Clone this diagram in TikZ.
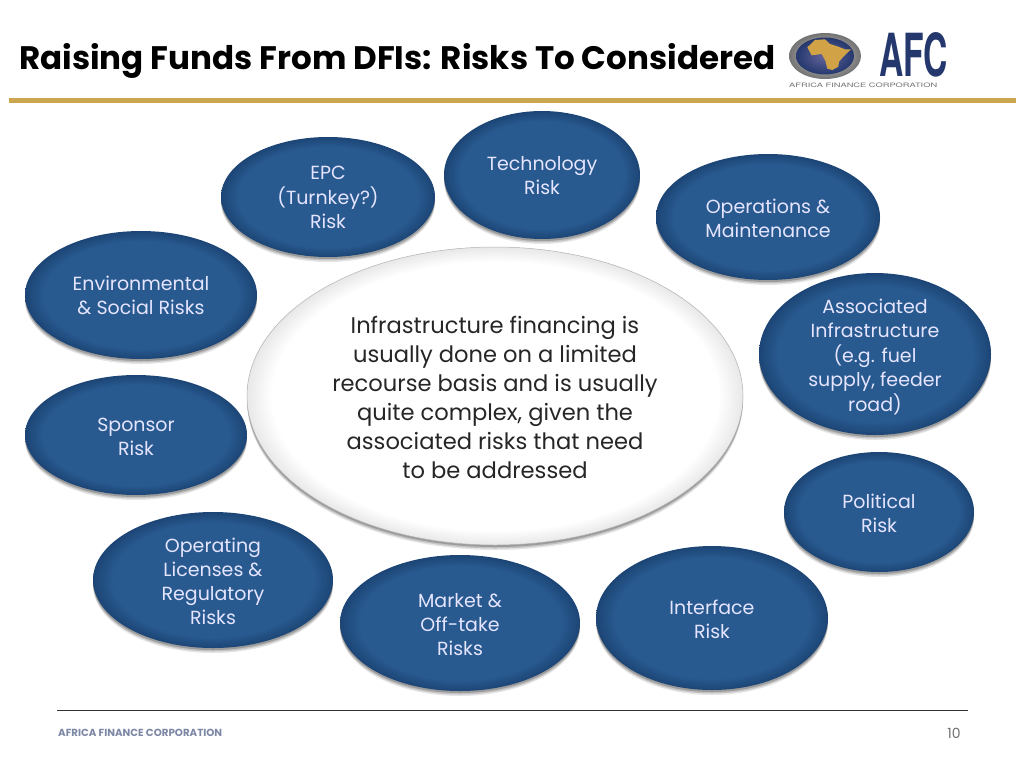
\documentclass[tikz,border=0pt]{standalone}
\usepackage{fontspec}
\usepackage{graphicx}
\setmainfont{Poppins}
\newfontfamily\logofont{TeX Gyre Heros}
\usetikzlibrary{shapes.geometric,shadows}
\definecolor{riskmid}{HTML}{28598F}
\definecolor{riskrim}{HTML}{1C4575}
\definecolor{gold}{HTML}{CCA64E}
\definecolor{logoblue}{HTML}{24386E}
\definecolor{footgrey}{HTML}{7D88A6}
\definecolor{hubcore}{HTML}{FFFFFF}
\definecolor{hubrim}{HTML}{E8E8E8}
% a path's bounding box maps onto the central 50bp square of a shading
\pgfdeclareradialshading{riskshade}{\pgfpointorigin}{color(0bp)=(riskmid); color(21bp)=(riskmid); color(25bp)=(riskrim); color(50bp)=(riskrim)}
\pgfdeclareradialshading{hubshade}{\pgfpointorigin}{color(0bp)=(hubcore); color(22.5bp)=(hubcore); color(25bp)=(hubrim); color(50bp)=(hubrim)}
\newcommand\lifted[2]{\raisebox{-#1}[\height][\depth]{\begin{tabular}{@{}c@{}}#2\end{tabular}}}
\tikzset{
  softshadow/.style={
    preaction={drop shadow={shadow xshift=0pt,shadow yshift=-5pt,opacity=.10,fill=black,shadow scale=1.0}},
    preaction={drop shadow={shadow xshift=0pt,shadow yshift=-3.5pt,opacity=.15,fill=black,shadow scale=1.0}},
    preaction={drop shadow={shadow xshift=0pt,shadow yshift=-2pt,opacity=.2,fill=black,shadow scale=1.0}}},
  risk/.style={ellipse,softshadow,inner sep=-20pt,text=white!90!blue,
    shade,shading=riskshade,
    font=\fontsize{19}{24}\selectfont},
  hub/.style={ellipse,softshadow,inner sep=-20pt,text=black!85,draw=black!30,line width=.5pt,
    shade,shading=hubshade,
    font=\fontsize{22.6}{29}\selectfont},
}
\begin{document}
\begin{tikzpicture}[x=1pt,y=-1pt]
\useasboundingbox (0,0) rectangle (1024,768);
\fill[white] (0,0) rectangle (1024,768);

\node[anchor=base west,inner sep=0pt] (title) at (19,69) {\resizebox{756pt}{!}{\bfseries Raising Funds From DFIs: Risks To Considered}};
\draw[gold,line width=5pt] (9,100) -- (1016,100);

% logo
\shade[inner color=white!85!black,outer color=black!55] (825,56) ellipse [x radius=36,y radius=23];
\shade[inner color=blue!35!black!60,outer color=logoblue] (825,56) ellipse [x radius=29,y radius=18.5];
\begin{scope}[shift={(770,20)},x=.3333pt,y=-.3333pt]
\fill[gold!90!orange] (112,82) -- (135,60) -- (165,58) -- (180,72) -- (205,80) -- (225,88) -- (243,88) -- (222,108) -- (207,125) -- (205,140) -- (187,150) -- (172,146) -- (166,122) -- (155,102) -- (125,106) -- cycle;
\end{scope}
\node[anchor=west,inner sep=0pt,text=logoblue] (afc) at (879,55) {\resizebox{69pt}{44pt}{\logofont\bfseries AFC}};
\node[anchor=west,inner sep=0pt,text=black!55] (afcname) at (789,85.5) {\resizebox{148pt}{4.5pt}{\logofont AFRICA FINANCE CORPORATION}};

% risks
\node[risk,minimum width=214pt,minimum height=120pt] (epc) at (328,197) {\lifted{2.5pt}{EPC\\(Turnkey?)\\Risk}};
\node[risk,minimum width=196pt,minimum height=128pt] (tech) at (542,175) {\lifted{3pt}{Technology\\Risk}};
\node[risk,minimum width=224pt,minimum height=126pt] (om) at (768,217) {\lifted{3.5pt}{Operations \&\\Maintenance}};
\node[risk,minimum width=232pt,minimum height=128pt] (env) at (141,295) {\lifted{3pt}{Environmental\\\& Social Risks}};
\node[risk,minimum width=232pt,minimum height=162pt] (assoc) at (875,354) {\lifted{4pt}{Associated\\Infrastructure\\(e.g. fuel\\supply, feeder\\road)}};
\node[risk,minimum width=222pt,minimum height=120pt] (sponsor) at (136,435) {\lifted{3.5pt}{Sponsor\\Risk}};
\node[risk,minimum width=190pt,minimum height=120pt] (pol) at (879,512) {\lifted{3.5pt}{Political\\Risk}};
\node[risk,minimum width=240pt,minimum height=136pt] (oper) at (213,580) {\lifted{3.5pt}{Operating\\Licenses \&\\Regulatory\\Risks}};
\node[risk,minimum width=240pt,minimum height=136pt] (market) at (460,623) {\lifted{3.5pt}{Market \&\\Off-take\\Risks}};
\node[risk,minimum width=232pt,minimum height=144pt] (iface) at (712,618) {\lifted{3.5pt}{Interface\\Risk}};

\node[hub,minimum width=496pt,minimum height=298pt] (hub) at (495,396) {\lifted{4pt}{Infrastructure financing is\\usually done on a limited\\recourse basis and is usually\\quite complex, given the\\associated risks that need\\to be addressed}};

% footer
\draw[black!80,line width=1pt] (57,710) -- (968,710);
\node[anchor=west,inner sep=0pt,text=footgrey] (foot) at (58,733) {\resizebox{164pt}{!}{\bfseries AFRICA FINANCE CORPORATION}};
\node[inner sep=0pt,text=black!55,font=\fontsize{14}{16}\selectfont] (page) at (954,733) {10};
\end{tikzpicture}
\end{document}
